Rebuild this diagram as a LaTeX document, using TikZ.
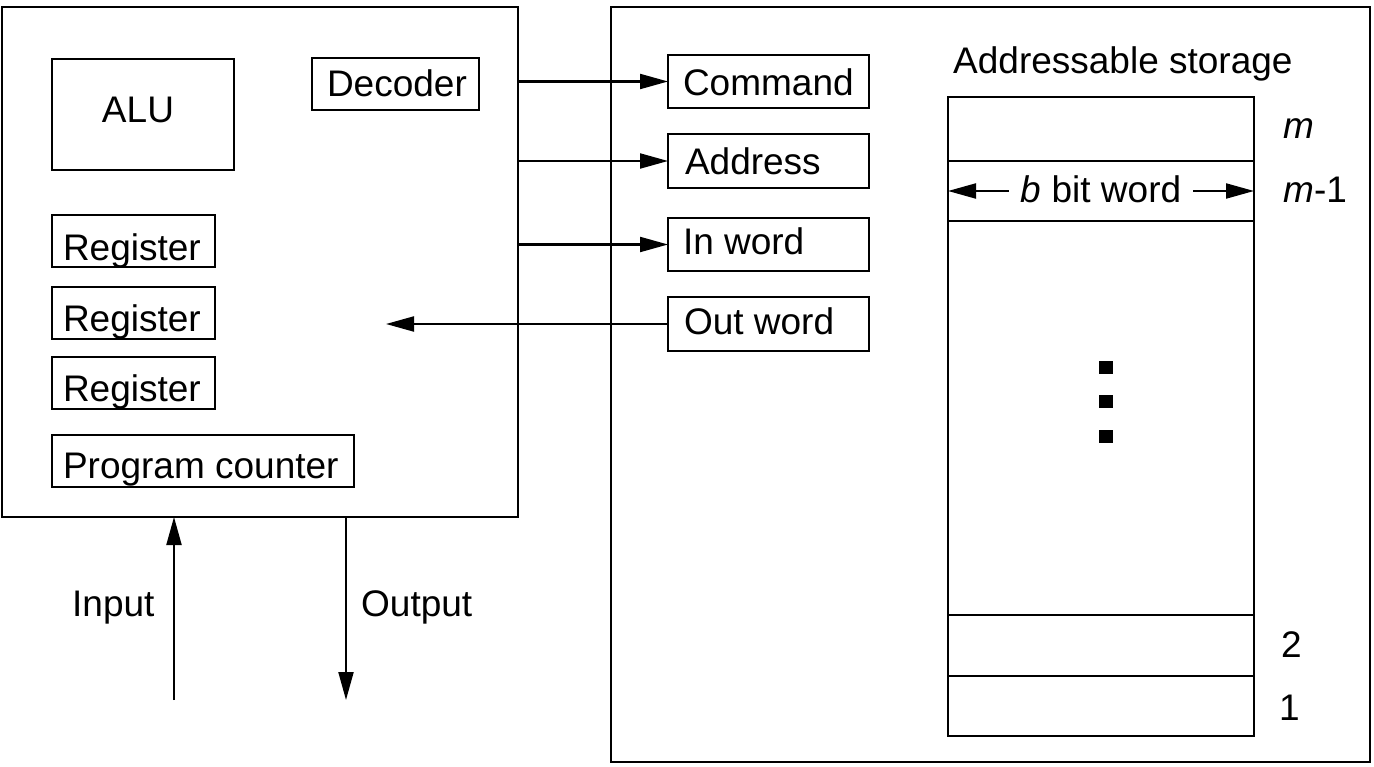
\documentclass[tikz,border=0pt]{standalone}
\usepackage{fontspec}
\setmainfont{Liberation Sans}
\usetikzlibrary{arrows.meta}
\newcommand\boxtxt[3]{\makebox[#1][l]{\kern#2\relax #3}}
\tikzset{
  tbox/.style={draw, line width=2.4pt, inner sep=0pt, outer sep=0pt, anchor=north west},
  bigbox/.style={draw, line width=2.4pt, inner sep=0pt, outer sep=0pt, anchor=north west},
  cell/.style={draw, line width=2.4pt, inner sep=0pt, outer sep=0pt, anchor=north west, minimum width=306pt},
  lbl/.style={inner sep=0pt, anchor=base west},
  arr/.style={line width=2.1pt, -{Triangle[length=28pt,width=15pt]}},
}
\begin{document}
\begin{tikzpicture}[x=1pt,y=-1pt,font=\fontsize{37}{44}\selectfont]
\useasboundingbox (0,0) rectangle (1374,767);
% main boxes
\node[bigbox, minimum width=516pt, minimum height=510pt] (cpu) at (2,7) {};
\node[bigbox, minimum width=759pt, minimum height=755pt] (mem) at (611,7) {};
% CPU parts
\node[tbox, text height=64pt, text depth=47pt] (alu) at (52,59) {\boxtxt{182pt}{50pt}{ALU}};
\node[tbox, text height=39pt, text depth=13pt] (dec) at (312,58) {\boxtxt{167pt}{15pt}{Decoder}};
\node[tbox, text height=46pt, text depth=6pt] (reg1) at (52,215) {\boxtxt{163pt}{11pt}{Register}};
\node[tbox, text height=45pt, text depth=7pt] (reg2) at (52,287) {\boxtxt{163pt}{11pt}{Register}};
\node[tbox, text height=45pt, text depth=7pt] (reg3) at (52,357) {\boxtxt{163pt}{11pt}{Register}};
\node[tbox, text height=43pt, text depth=9pt] (pc) at (52,435) {\boxtxt{302pt}{11pt}{Program counter}};
% interface boxes
\node[tbox, text height=41pt, text depth=12pt] (cmd) at (668,55) {\boxtxt{201pt}{15pt}{Command}};
\node[tbox, text height=41pt, text depth=13pt] (adr) at (668,134) {\boxtxt{201pt}{17pt}{Address}};
\node[tbox, text height=37pt, text depth=16pt] (inw) at (668,218) {\boxtxt{201pt}{15pt}{In word}};
\node[tbox, text height=38pt, text depth=16pt] (outw) at (668,297) {\boxtxt{201pt}{16pt}{Out word}};
% connectors CPU <-> memory interface
\draw[arr] (cmd.west -| cpu.east) -- (cmd.west);
\draw[arr] (adr.west -| cpu.east) -- (adr.west);
\draw[arr] (inw.west -| cpu.east) -- (inw.west);
\coordinate (outtip) at (386,324);
\draw[arr] (outw.west) -- (outtip |- outw.west);
% input / output
\coordinate (inbot) at (174,700);
\coordinate (outbot) at (346,700);
\draw[arr] (inbot) -- (inbot |- cpu.south);
\draw[arr] (outbot |- cpu.south) -- (outbot);
\node[lbl] (inlbl) at (72,616) {Input};
\node[lbl] (outlbl) at (361,616) {Output};
% storage
\node[lbl] (stitle) at (953,74) {Addressable storage};
\node[cell, minimum height=64pt] (cm) at (948,97) {};
\node[cell, minimum height=60pt] (cm1) at (948,161) {};
\node[cell, minimum height=394pt] (cmid) at (948,221) {};
\node[cell, minimum height=61pt] (c2) at (948,615) {};
\node[cell, minimum height=60pt] (c1) at (948,676) {};
\node[inner ysep=0pt, inner xsep=12pt, anchor=base] (bw) at (1101,203) {\textit{b} bit word};
\draw[arr] (bw.west |- cm1.center) -- (cm1.west);
\draw[arr] (bw.east |- cm1.center) -- (cm1.east);
\node[lbl] (lm) at (1283,139) {\textit{m}};
\node[lbl] (lm1) at (1283,203) {\textit{m}-1};
\node[lbl] (l2) at (1281,657) {2};
\node[lbl] (l1) at (1279,720) {1};
% dots
\fill (1099,361) rectangle (1113,374);
\fill (1099,395) rectangle (1113,408);
\fill (1099,430) rectangle (1113,443);
\end{tikzpicture}
\end{document}
